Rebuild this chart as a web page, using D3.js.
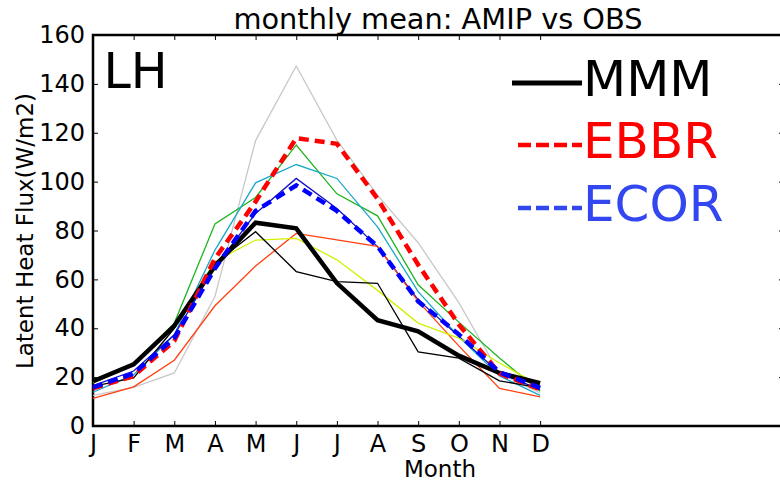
<!DOCTYPE html>
<html>
<head>
<meta charset="utf-8">
<script src="https://cdn.jsdelivr.net/npm/d3@7"></script>
<style>
  body { margin: 0; background: #fff; }
  text { font-family: "DejaVu Sans", sans-serif; }
</style>
</head>
<body>
<div id="chart"></div>
<script>
var svgWidth = 780;
var svgHeight = 482;

var margin = { top: 35, right: -4, bottom: 56, left: 93 };
var width = svgWidth - margin.left - margin.right;
var height = svgHeight - margin.top - margin.bottom;

// data (W/m2), Jan..Dec
var months = ["J", "F", "M", "A", "M", "J", "J", "A", "S", "O", "N", "D"];
var yTicks = [0, 20, 40, 60, 80, 100, 120, 140, 160];

var mmm  = [18.3, 25.2, 41.0, 65.5, 83.2, 80.9, 58.5, 43.3, 38.7, 28.8, 21.7, 17.5];
var ebbr = [15.4, 20.5, 34.8, 68.5, 91.8, 117.8, 115.5, 93.0, 66.0, 41.5, 21.5, 15.0];
var ecor = [15.8, 21.5, 36.0, 64.5, 88.0, 98.5, 88.0, 73.5, 51.0, 37.5, 22.0, 15.6];

// individual AMIP models
var modelGray   = [12.5, 15.8, 21.7, 53.0, 116.8, 147.3, 117.0, 94.5, 75.0, 50.5, 21.5, 13.5];
var modelGreen  = [17.6, 25.0, 42.1, 82.7, 93.5, 115.0, 95.0, 86.0, 57.8, 42.5, 27.8, 14.2];
var modelCyan   = [13.8, 21.0, 37.3, 72.0, 99.5, 107.0, 101.3, 81.5, 55.0, 36.5, 20.5, 12.5];
var modelBlue   = [16.5, 22.5, 37.3, 65.0, 87.0, 101.3, 89.0, 73.4, 51.6, 36.7, 21.7, 14.9];
var modelOrange = [11.3, 16.0, 26.9, 49.2, 65.5, 78.8, 76.2, 73.5, 51.0, 32.8, 15.4, 11.9];
var modelYellow = [17.8, 25.8, 41.0, 67.3, 76.1, 76.8, 68.0, 55.5, 42.1, 36.0, 25.8, 16.5];
var modelBlack  = [16.2, 19.7, 40.0, 66.6, 79.5, 63.2, 59.1, 58.4, 30.3, 27.8, 18.5, 15.6];

var models = [
    { values: modelGray, color: "#c8c8c8" },
    { values: modelGreen, color: "#1fb41f" },
    { values: modelCyan, color: "#1aa8c8" },
    { values: modelBlue, color: "#1010c8" },
    { values: modelOrange, color: "#ff4010" },
    { values: modelYellow, color: "#d2f000" },
    { values: modelBlack, color: "#000000" }
];

var svg = d3.select("#chart")
    .append("svg")
    .attr("width", svgWidth)
    .attr("height", svgHeight);

var chartGroup = svg.append("g")
    .attr("transform", `translate(${margin.left}, ${margin.top})`);

var xScale = d3.scaleLinear().domain([0, 17]).range([0, width]);
var yScale = d3.scaleLinear().domain([0, 160]).range([height, 0]);

// inward ticks on all four sides
var tickLen = 5;
var xIdx = d3.range(months.length);

chartGroup.append("g")
    .attr("transform", `translate(0, ${height})`)
    .call(d3.axisBottom(xScale).tickValues(xIdx).tickSizeInner(-tickLen).tickSizeOuter(0)
        .tickPadding(tickLen + 4).tickFormat(i => months[i]));

chartGroup.append("g")
    .call(d3.axisTop(xScale).tickValues(xIdx).tickSizeInner(-tickLen).tickSizeOuter(0).tickFormat(""));

chartGroup.append("g")
    .call(d3.axisLeft(yScale).tickValues(yTicks).tickSizeInner(-tickLen).tickSizeOuter(0)
        .tickPadding(tickLen + 3));

chartGroup.append("g")
    .attr("transform", `translate(${width}, 0)`)
    .call(d3.axisRight(yScale).tickValues(yTicks).tickSizeInner(-tickLen).tickSizeOuter(0).tickFormat(""));

chartGroup.selectAll(".domain").remove();
chartGroup.selectAll(".tick line").attr("stroke", "#000").attr("stroke-width", 1);
chartGroup.selectAll(".tick text")
    .attr("font-size", 24)
    .attr("font-family", "DejaVu Sans")
    .attr("fill", "#000");

// frame
chartGroup.append("rect")
    .attr("x", 0).attr("y", 0)
    .attr("width", width).attr("height", height)
    .attr("fill", "none")
    .attr("stroke", "#000")
    .attr("stroke-width", 2.5);

var line = d3.line()
    .x((d, i) => xScale(i))
    .y(d => yScale(d));

chartGroup.selectAll(".model")
    .data(models)
    .enter()
    .append("path")
    .attr("class", "model")
    .attr("d", d => line(d.values))
    .attr("fill", "none")
    .attr("stroke", d => d.color)
    .attr("stroke-width", 1.3);

chartGroup.append("path")
    .attr("d", line(mmm))
    .attr("fill", "none")
    .attr("stroke", "#000")
    .attr("stroke-width", 4.5);

chartGroup.append("path")
    .attr("d", line(ebbr))
    .attr("fill", "none")
    .attr("stroke", "#ff0000")
    .attr("stroke-width", 4.5)
    .attr("stroke-dasharray", "10,6");

chartGroup.append("path")
    .attr("d", line(ecor))
    .attr("fill", "none")
    .attr("stroke", "#0000ff")
    .attr("stroke-width", 4.5)
    .attr("stroke-dasharray", "10,6");

// legend
var legendItems = [
    { name: "MMM", color: "#000000", dash: null, y: 96 },
    { name: "EBBR", color: "#ff0000", dash: "13,5", y: 158 },
    { name: "ECOR", color: "#3347f0", dash: "13,5", y: 221 }
];

var legend = svg.append("g");
legendItems.forEach(function (item) {
    var ln = legend.append("line")
        .attr("x1", item.dash ? 518 : 512)
        .attr("x2", 582)
        .attr("y1", item.y - 13)
        .attr("y2", item.y - 13)
        .attr("stroke", item.color)
        .attr("stroke-width", item.dash ? 4.5 : 5);
    if (item.dash) ln.attr("stroke-dasharray", item.dash);
    legend.append("text")
        .attr("x", 583)
        .attr("y", item.y)
        .attr("font-family", "Liberation Sans")
        .attr("font-size", 50)
        .attr("fill", item.color)
        .text(item.name);
});

// labels
svg.append("text")
    .attr("x", 103.5)
    .attr("y", 88)
    .attr("font-family", "Liberation Sans")
    .attr("font-size", 49)
    .text("LH");

svg.append("text")
    .attr("x", 438)
    .attr("y", 29)
    .attr("text-anchor", "middle")
    .attr("font-size", 28.8)
    .text("monthly mean: AMIP vs OBS");

svg.append("text")
    .attr("x", 440)
    .attr("y", 477)
    .attr("text-anchor", "middle")
    .attr("font-size", 23)
    .text("Month");

svg.append("text")
    .attr("transform", "translate(33, 231) rotate(-90)")
    .attr("text-anchor", "middle")
    .attr("font-size", 23)
    .text("Latent Heat Flux(W/m2)");
</script>
</body>
</html>
